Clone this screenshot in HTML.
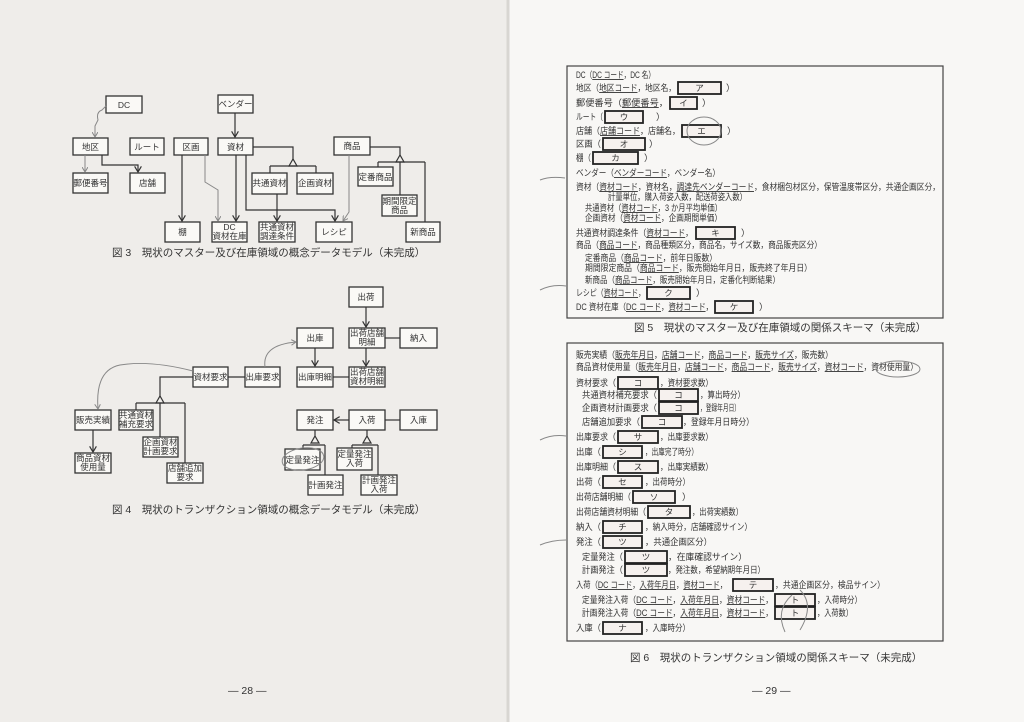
<!DOCTYPE html>
<html><head><meta charset="utf-8"><style>
html,body{margin:0;padding:0;width:1024px;height:722px;overflow:hidden;background:#f3f2ef}
svg{display:block}
text{font-family:"Liberation Sans","Noto Sans CJK JP",sans-serif;fill:#333}
.b{fill:#faf9f6;stroke:#333;stroke-width:1.3}
.k{fill:#f6f1ee;stroke:#222;stroke-width:1.8}
.l{stroke:#333;stroke-width:1.2;fill:none}
.g{stroke:#888;stroke-width:1;fill:none}
.s{font-size:9px}
.c{font-size:10.5px}
</style></head><body>
<svg width="1024" height="722" viewBox="0 0 1024 722" xmlns="http://www.w3.org/2000/svg">
<defs><marker id="a" markerWidth="6" markerHeight="6" refX="5" refY="3" orient="auto"><path d="M0,0 L5,3 L0,6" fill="none" stroke="#333" stroke-width="1"/></marker>
<marker id="ag" markerWidth="6" markerHeight="6" refX="5" refY="3" orient="auto"><path d="M0,0 L5,3 L0,6" fill="none" stroke="#888" stroke-width="1"/></marker></defs>
<rect x="0" y="0" width="508" height="722" fill="#efedea"/>
<rect x="508" y="0" width="516" height="722" fill="#f8f7f5"/>
<line x1="508" y1="0" x2="508" y2="722" stroke="#d8d6d2" stroke-width="3"/>

<!-- Fig 3 -->
<g font-size="8.5" text-anchor="middle">
<rect class="b" x="106" y="96" width="36" height="17"/><text x="124" y="108">DC</text>
<rect class="b" x="218" y="95" width="35" height="18"/><text x="235.5" y="107">ベンダー</text>
<rect class="b" x="73" y="138" width="35" height="17"/><text x="90.5" y="150">地区</text>
<rect class="b" x="130" y="138" width="34" height="17"/><text x="147" y="150">ルート</text>
<rect class="b" x="174" y="138" width="34" height="17"/><text x="191" y="150">区画</text>
<rect class="b" x="218" y="138" width="35" height="17"/><text x="235.5" y="150">資材</text>
<rect class="b" x="334" y="137" width="36" height="18"/><text x="352" y="149">商品</text>
<rect class="b" x="73" y="173" width="35" height="20"/><text x="90.5" y="186">郵便番号</text>
<rect class="b" x="130" y="173" width="35" height="20"/><text x="147.5" y="186">店舗</text>
<rect class="b" x="252" y="173" width="35" height="21"/><text x="269.5" y="186">共通資材</text>
<rect class="b" x="297" y="173" width="36" height="21"/><text x="315" y="186">企画資材</text>
<rect class="b" x="358" y="167" width="35" height="19"/><text x="375.5" y="180">定番商品</text>
<rect class="b" x="382" y="195" width="35" height="21"/><text x="399.5" y="204">期間限定</text><text x="399.5" y="213">商品</text>
<rect class="b" x="165" y="222" width="35" height="20"/><text x="182.5" y="235">棚</text>
<rect class="b" x="212" y="222" width="35" height="20"/><text x="229.5" y="230">DC</text><text x="229.5" y="239">資材在庫</text>
<rect class="b" x="259" y="222" width="36" height="20"/><text x="277" y="230">共通資材</text><text x="277" y="239">調達条件</text>
<rect class="b" x="316" y="222" width="36" height="20"/><text x="334" y="235">レシピ</text>
<rect class="b" x="406" y="222" width="34" height="20"/><text x="423" y="235">新商品</text>
</g>
<path class="g" d="M106,106 L102,110 Q96,112 98,120 L95,126 L95,137" marker-end="url(#ag)"/>
<path class="g" d="M85,155 L85,172" marker-end="url(#ag)"/>
<path class="l" d="M102,155 L102,165 L138,165 L138,172" marker-end="url(#a)"/>
<path class="l" d="M235,113 L235,137" marker-end="url(#a)"/>
<path class="l" d="M182,155 L182,221" marker-end="url(#a)"/>
<path class="g" d="M205,155 L205,182 L218,190 L218,221" marker-end="url(#ag)"/>
<path class="l" d="M236,155 L236,221" marker-end="url(#a)"/>
<path class="l" d="M246,155 L246,210 L335,210 L335,221" marker-end="url(#a)"/>
<path class="l" d="M253,147 L293,147 L293,160"/>
<path class="l" d="M289,166 L293,159 L297,166 Z"/>
<path class="l" d="M270,166 L316,166 M270,166 L270,173 M316,166 L316,173"/>
<path class="l" d="M277,194 L277,221" marker-end="url(#a)"/>
<path class="g" d="M349,155 L349,212 L343,221" marker-end="url(#ag)"/>
<path class="l" d="M370,147 L400,147 L400,155"/>
<path class="l" d="M396,162 L400,155 L404,162 Z"/>
<path class="l" d="M378,162 L425,162 M378,162 L378,167 M400,162 L400,195 M425,162 L425,222"/>
<text class="c" x="112" y="256">図 3　現状のマスター及び在庫領域の概念データモデル（未完成）</text>

<!-- Fig 4 -->
<g font-size="8.5" text-anchor="middle">
<rect class="b" x="349" y="287" width="34" height="20"/><text x="366" y="300">出荷</text>
<rect class="b" x="297" y="328" width="36" height="20"/><text x="315" y="341">出庫</text>
<rect class="b" x="349" y="328" width="36" height="20"/><text x="367" y="336">出荷店舗</text><text x="367" y="345">明細</text>
<rect class="b" x="400" y="328" width="37" height="20"/><text x="418.5" y="341">納入</text>
<rect class="b" x="193" y="367" width="35" height="20"/><text x="210.5" y="380">資材要求</text>
<rect class="b" x="245" y="367" width="35" height="20"/><text x="262.5" y="380">出庫要求</text>
<rect class="b" x="297" y="367" width="36" height="20"/><text x="315" y="380">出庫明細</text>
<rect class="b" x="349" y="367" width="36" height="20"/><text x="367" y="375">出荷店舗</text><text x="367" y="384">資材明細</text>
<rect class="b" x="75" y="410" width="36" height="20"/><text x="93" y="423">販売実績</text>
<rect class="b" x="119" y="410" width="34" height="20"/><text x="136" y="418">共通資材</text><text x="136" y="427">補充要求</text>
<rect class="b" x="143" y="437" width="35" height="20"/><text x="160.5" y="445">企画資材</text><text x="160.5" y="454">計画要求</text>
<rect class="b" x="167" y="463" width="36" height="20"/><text x="185" y="471">店舗追加</text><text x="185" y="480">要求</text>
<rect class="b" x="75" y="453" width="36" height="20"/><text x="93" y="461">商品資材</text><text x="93" y="470">使用量</text>
<rect class="b" x="297" y="410" width="36" height="20"/><text x="315" y="423">発注</text>
<rect class="b" x="349" y="410" width="36" height="20"/><text x="367" y="423">入荷</text>
<rect class="b" x="400" y="410" width="37" height="20"/><text x="418.5" y="423">入庫</text>
<rect class="b" x="285" y="449" width="35" height="21"/><text x="302.5" y="463">定量発注</text>
<rect class="b" x="337" y="448" width="35" height="22"/><text x="354.5" y="457">定量発注</text><text x="354.5" y="466">入荷</text>
<rect class="b" x="308" y="475" width="35" height="20"/><text x="325.5" y="488">計画発注</text>
<rect class="b" x="361" y="475" width="36" height="20"/><text x="379" y="483">計画発注</text><text x="379" y="492">入荷</text>
</g>
<path class="l" d="M366,307 L366,327" marker-end="url(#a)"/>
<path class="l" d="M385,338 L400,338"/>
<path class="l" d="M366,348 L366,366" marker-end="url(#a)"/>
<path class="l" d="M315,348 L315,366" marker-end="url(#a)"/>
<path class="l" d="M333,377 L349,377"/>
<path class="l" d="M228,377 L245,377"/>
<path class="g" d="M265,367 Q262,345 296,342" marker-end="url(#ag)"/>
<path class="g" d="M193,371 Q150,360 120,365 Q95,370 98,409" marker-end="url(#ag)"/>
<path class="l" d="M193,377 L160,377 L160,397"/>
<path class="l" d="M156,403 L160,396 L164,403 Z"/>
<path class="l" d="M136,403 L185,403 M136,403 L136,410 M160,403 L160,437 M185,403 L185,463"/>
<path class="l" d="M93,430 L93,452" marker-end="url(#a)"/>
<path class="l" d="M349,420 L334,420" marker-end="url(#a)"/>
<path class="l" d="M385,420 L400,420"/>
<path class="l" d="M315,430 L315,437 M311,443 L315,436 L319,443 Z M303,445 L325,445 M303,445 L303,449 M325,445 L325,475"/>
<path class="l" d="M367,430 L367,437 M363,443 L367,436 L371,443 Z M352,445 L378,445 M352,445 L352,448 M378,445 L378,475"/>
<ellipse cx="303" cy="459" rx="21" ry="11" class="g" transform="rotate(-8 303 459)"/>
<text class="c" x="112" y="513">図 4　現状のトランザクション領域の概念データモデル（未完成）</text>

<text class="c" x="228" y="694">― 28 ―</text>
<text class="c" x="752" y="694">― 29 ―</text>

<!-- Fig 5 -->
<rect x="567" y="66" width="376" height="252" fill="none" stroke="#444" stroke-width="1.2"/>
<g class="s">
<text x="576" y="78" textLength="79" lengthAdjust="spacingAndGlyphs">DC（<tspan text-decoration="underline">DC コード</tspan>，DC 名）</text>
<text x="576" y="91" textLength="100" lengthAdjust="spacingAndGlyphs">地区（<tspan text-decoration="underline">地区コード</tspan>，地区名，</text><text x="726" y="91">）</text>
<text x="576" y="106" textLength="92" lengthAdjust="spacingAndGlyphs">郵便番号（<tspan text-decoration="underline">郵便番号</tspan>，</text><text x="702" y="106">）</text>
<text x="576" y="120" textLength="27" lengthAdjust="spacingAndGlyphs">ルート（</text><text x="656" y="120">）</text>
<text x="576" y="134" textLength="104" lengthAdjust="spacingAndGlyphs">店舗（<tspan text-decoration="underline">店舗コード</tspan>，店舗名，</text><text x="727" y="134">）</text>
<text x="576" y="147" textLength="25" lengthAdjust="spacingAndGlyphs">区画（</text><text x="649" y="147">）</text>
<text x="576" y="161" textLength="15" lengthAdjust="spacingAndGlyphs">棚（</text><text x="644" y="161">）</text>
<text x="576" y="176" textLength="144" lengthAdjust="spacingAndGlyphs">ベンダー（<tspan text-decoration="underline">ベンダーコード</tspan>，ベンダー名）</text>
<text x="576" y="190" textLength="364" lengthAdjust="spacingAndGlyphs">資材（<tspan text-decoration="underline">資材コード</tspan>，資材名，<tspan text-decoration="underline">調達先ベンダーコード</tspan>，食材梱包材区分，保管温度帯区分，共通企画区分，</text>
<text x="608" y="200" textLength="139" lengthAdjust="spacingAndGlyphs">計量単位，購入荷姿入数，配送荷姿入数）</text>
<text x="585" y="211" textLength="137" lengthAdjust="spacingAndGlyphs">共通資材（<tspan text-decoration="underline">資材コード</tspan>，3 か月平均単価）</text>
<text x="585" y="221" textLength="137" lengthAdjust="spacingAndGlyphs">企画資材（<tspan text-decoration="underline">資材コード</tspan>，企画期間単価）</text>
<text x="576" y="236" textLength="117" lengthAdjust="spacingAndGlyphs">共通資材調達条件（<tspan text-decoration="underline">資材コード</tspan>，</text><text x="741" y="236">）</text>
<text x="576" y="248" textLength="246" lengthAdjust="spacingAndGlyphs">商品（<tspan text-decoration="underline">商品コード</tspan>，商品種類区分，商品名，サイズ数，商品販売区分）</text>
<text x="585" y="261" textLength="132" lengthAdjust="spacingAndGlyphs">定番商品（<tspan text-decoration="underline">商品コード</tspan>，前年日販数）</text>
<text x="585" y="271" textLength="227" lengthAdjust="spacingAndGlyphs">期間限定商品（<tspan text-decoration="underline">商品コード</tspan>，販売開始年月日，販売終了年月日）</text>
<text x="585" y="283" textLength="195" lengthAdjust="spacingAndGlyphs">新商品（<tspan text-decoration="underline">商品コード</tspan>，販売開始年月日，定番化判断結果）</text>
<text x="576" y="296" textLength="69" lengthAdjust="spacingAndGlyphs">レシピ（<tspan text-decoration="underline">資材コード</tspan>，</text><text x="696" y="296">）</text>
<text x="576" y="310" textLength="137" lengthAdjust="spacingAndGlyphs">DC 資材在庫（<tspan text-decoration="underline">DC コード</tspan>，<tspan text-decoration="underline">資材コード</tspan>，</text><text x="759" y="310">）</text>
</g>
<g font-size="8.5" text-anchor="middle">
<rect class="k" x="678" y="82" width="43" height="12"/><text x="699.5" y="91">ア</text>
<rect class="k" x="670" y="97" width="27" height="12"/><text x="683.5" y="106">イ</text>
<rect class="k" x="605" y="111" width="38" height="12"/><text x="624" y="120">ウ</text>
<rect class="k" x="682" y="125" width="39" height="12"/><text x="701.5" y="134">エ</text>
<rect class="k" x="603" y="138" width="42" height="12"/><text x="624" y="147">オ</text>
<rect class="k" x="593" y="152" width="45" height="12"/><text x="615.5" y="161">カ</text>
<rect class="k" x="696" y="227" width="39" height="12"/><text x="715.5" y="236">キ</text>
<rect class="k" x="647" y="287" width="43" height="12"/><text x="668.5" y="296">ク</text>
<rect class="k" x="715" y="301" width="38" height="12"/><text x="734" y="310">ケ</text>
</g>
<ellipse cx="704" cy="131" rx="17" ry="14" class="g"/>
<text class="c" x="634" y="331">図 5　現状のマスター及び在庫領域の関係スキーマ（未完成）</text>

<!-- Fig 6 -->
<rect x="567" y="343" width="376" height="298" fill="none" stroke="#444" stroke-width="1.2"/>
<g class="s" lengthAdjust="spacingAndGlyphs">
<text x="576" y="358" textLength="257" lengthAdjust="spacingAndGlyphs">販売実績（<tspan text-decoration="underline">販売年月日</tspan>，<tspan text-decoration="underline">店舗コード</tspan>，<tspan text-decoration="underline">商品コード</tspan>，<tspan text-decoration="underline">販売サイズ</tspan>，販売数）</text>
<text x="576" y="370" textLength="342" lengthAdjust="spacingAndGlyphs">商品資材使用量（<tspan text-decoration="underline">販売年月日</tspan>，<tspan text-decoration="underline">店舗コード</tspan>，<tspan text-decoration="underline">商品コード</tspan>，<tspan text-decoration="underline">販売サイズ</tspan>，<tspan text-decoration="underline">資材コード</tspan>，資材使用量）</text>
<text x="576" y="386" textLength="40" lengthAdjust="spacingAndGlyphs">資材要求（</text><text x="660" y="386" textLength="53" lengthAdjust="spacingAndGlyphs">，資材要求数）</text>
<text x="582" y="398" textLength="75" lengthAdjust="spacingAndGlyphs">共通資材補充要求（</text><text x="700" y="398" textLength="45" lengthAdjust="spacingAndGlyphs">，算出時分）</text>
<text x="582" y="411" textLength="75" lengthAdjust="spacingAndGlyphs">企画資材計画要求（</text><text x="700" y="411" textLength="40" lengthAdjust="spacingAndGlyphs">，登録年月日）</text>
<text x="582" y="425" textLength="58" lengthAdjust="spacingAndGlyphs">店舗追加要求（</text><text x="683" y="425" textLength="71" lengthAdjust="spacingAndGlyphs">，登録年月日時分）</text>
<text x="576" y="440" textLength="40" lengthAdjust="spacingAndGlyphs">出庫要求（</text><text x="660" y="440" textLength="53" lengthAdjust="spacingAndGlyphs">，出庫要求数）</text>
<text x="576" y="455" textLength="25" lengthAdjust="spacingAndGlyphs">出庫（</text><text x="645" y="455" textLength="53" lengthAdjust="spacingAndGlyphs">，出庫完了時分）</text>
<text x="576" y="470" textLength="40" lengthAdjust="spacingAndGlyphs">出庫明細（</text><text x="660" y="470" textLength="53" lengthAdjust="spacingAndGlyphs">，出庫実績数）</text>
<text x="576" y="485" textLength="25" lengthAdjust="spacingAndGlyphs">出荷（</text><text x="645" y="485" textLength="45" lengthAdjust="spacingAndGlyphs">，出荷時分）</text>
<text x="576" y="500" textLength="55" lengthAdjust="spacingAndGlyphs">出荷店舗明細（</text><text x="682" y="500">）</text>
<text x="576" y="515" textLength="70" lengthAdjust="spacingAndGlyphs">出荷店舗資材明細（</text><text x="692" y="515" textLength="51" lengthAdjust="spacingAndGlyphs">，出荷実績数）</text>
<text x="576" y="530" textLength="25" lengthAdjust="spacingAndGlyphs">納入（</text><text x="645" y="530" textLength="107" lengthAdjust="spacingAndGlyphs">，納入時分，店舗確認サイン）</text>
<text x="576" y="545" textLength="25" lengthAdjust="spacingAndGlyphs">発注（</text><text x="645" y="545" textLength="67" lengthAdjust="spacingAndGlyphs">，共通企画区分）</text>
<text x="582" y="560" textLength="41" lengthAdjust="spacingAndGlyphs">定量発注（</text><text x="668" y="560" textLength="79" lengthAdjust="spacingAndGlyphs">，在庫確認サイン）</text>
<text x="582" y="573" textLength="41" lengthAdjust="spacingAndGlyphs">計画発注（</text><text x="668" y="573" textLength="97" lengthAdjust="spacingAndGlyphs">，発注数，希望納期年月日）</text>
<text x="576" y="588" textLength="151" lengthAdjust="spacingAndGlyphs">入荷（<tspan text-decoration="underline">DC コード</tspan>，<tspan text-decoration="underline">入荷年月日</tspan>，<tspan text-decoration="underline">資材コード</tspan>，</text><text x="775" y="588" textLength="110" lengthAdjust="spacingAndGlyphs">，共通企画区分，検品サイン）</text>
<text x="582" y="603" textLength="191" lengthAdjust="spacingAndGlyphs">定量発注入荷（<tspan text-decoration="underline">DC コード</tspan>，<tspan text-decoration="underline">入荷年月日</tspan>，<tspan text-decoration="underline">資材コード</tspan>，</text><text x="817" y="603" textLength="45" lengthAdjust="spacingAndGlyphs">，入荷時分）</text>
<text x="582" y="616" textLength="191" lengthAdjust="spacingAndGlyphs">計画発注入荷（<tspan text-decoration="underline">DC コード</tspan>，<tspan text-decoration="underline">入荷年月日</tspan>，<tspan text-decoration="underline">資材コード</tspan>，</text><text x="817" y="616" textLength="36" lengthAdjust="spacingAndGlyphs">，入荷数）</text>
<text x="576" y="631" textLength="25" lengthAdjust="spacingAndGlyphs">入庫（</text><text x="645" y="631" textLength="45" lengthAdjust="spacingAndGlyphs">，入庫時分）</text>
</g>
<g font-size="8.5" text-anchor="middle">
<rect class="k" x="618" y="377" width="40" height="12"/><text x="638" y="386">コ</text>
<rect class="k" x="659" y="389" width="39" height="12"/><text x="678.5" y="398">コ</text>
<rect class="k" x="659" y="402" width="39" height="12"/><text x="678.5" y="411">コ</text>
<rect class="k" x="642" y="416" width="40" height="12"/><text x="662" y="425">コ</text>
<rect class="k" x="618" y="431" width="40" height="12"/><text x="638" y="440">サ</text>
<rect class="k" x="603" y="446" width="39" height="12"/><text x="622.5" y="455">シ</text>
<rect class="k" x="618" y="461" width="40" height="12"/><text x="638" y="470">ス</text>
<rect class="k" x="603" y="476" width="39" height="12"/><text x="622.5" y="485">セ</text>
<rect class="k" x="633" y="491" width="42" height="12"/><text x="654" y="500">ソ</text>
<rect class="k" x="648" y="506" width="42" height="12"/><text x="669" y="515">タ</text>
<rect class="k" x="603" y="521" width="39" height="12"/><text x="622.5" y="530">チ</text>
<rect class="k" x="603" y="536" width="39" height="12"/><text x="622.5" y="545">ツ</text>
<rect class="k" x="625" y="551" width="42" height="12"/><text x="646" y="560">ツ</text>
<rect class="k" x="625" y="564" width="42" height="12"/><text x="646" y="573">ツ</text>
<rect class="k" x="733" y="579" width="40" height="12"/><text x="753" y="588">テ</text>
<rect class="k" x="775" y="594" width="40" height="12"/><text x="795" y="603">ト</text>
<rect class="k" x="775" y="607" width="40" height="12"/><text x="795" y="616">ト</text>
<rect class="k" x="603" y="622" width="39" height="12"/><text x="622.5" y="631">ナ</text>
</g>
<ellipse cx="898" cy="369" rx="22" ry="8" class="g"/>
<path class="g" d="M792,595 Q775,610 785,632 M800,590 Q815,605 800,630"/>
<path class="g" d="M540,180 Q550,176 565,178 M540,290 Q552,284 566,286 M540,440 Q552,434 566,436 M540,545 Q552,540 566,540"/>
<text class="c" x="630" y="661">図 6　現状のトランザクション領域の関係スキーマ（未完成）</text>
</svg>
</body></html>
